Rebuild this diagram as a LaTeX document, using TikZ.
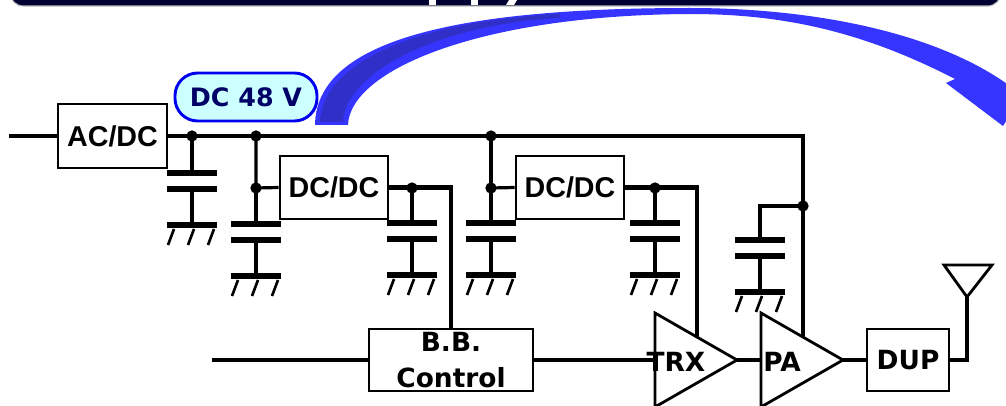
\documentclass[tikz,border=0pt]{standalone}
\usepackage{fontspec}
\newfontfamily\arialfont{Liberation Sans}
\newfontfamily\dejafont{DejaVu Sans}
\usetikzlibrary{calc}
\definecolor{navy}{HTML}{000033}
\definecolor{arcblue}{HTML}{3535FF}
\definecolor{arcdark}{HTML}{3030C8}
\definecolor{pillfill}{HTML}{CCFFFF}
\definecolor{pilltext}{HTML}{000066}
\definecolor{pillline}{HTML}{0000EE}
\begin{document}
\begin{tikzpicture}[x=0.75pt,y=-0.75pt,
  wire/.style={line width=3.7pt, line join=miter},
  thinwire/.style={line width=2.4pt, line join=miter},
  plate/.style={line width=4.8pt},
  hatch/.style={line width=2pt},
  box/.style={draw, line width=2.2pt, fill=white, inner sep=0pt,
    font=\arialfont\bfseries\fontsize{21.5}{24}\selectfont},
  dbox/.style={draw, line width=2.2pt, fill=white, inner sep=0pt, align=center,
    font=\dejafont\bfseries\fontsize{19.8}{27}\selectfont},
  lbl/.style={inner sep=0pt, font=\dejafont\bfseries\fontsize{19.8}{27}\selectfont},
  pill/.style={draw=pillline, line width=2.2pt, fill=pillfill, text=pilltext,
    rounded corners=17pt, inner sep=0pt, minimum width=106.5pt, minimum height=36pt,
    font=\dejafont\bfseries\fontsize{19}{22}\selectfont},
  dot/.style={circle, fill=black, inner sep=0pt, minimum size=8.5pt},
  amp/.style={line width=2.1pt, line join=miter},
  capg/.pic={
    \draw[plate] (-25,0) -- (25,0) (-25,16) -- (25,16) (-25,52) -- (25,52);
    \draw[wire] (0,16) -- (0,52);
    \draw[hatch] (-18,56) -- (-24,72) (2,56) -- (-4,72) (22,56) -- (16,72);
  }]
\useasboundingbox (0,0) rectangle (1006,406);
\clip (0,0) rectangle (1006,406);
\fill[white] (0,0) rectangle (1006,406);

% title banner
\filldraw[fill=navy, draw=gray!55, line width=0.8pt, rounded corners=10pt] (10,-40) rectangle (1001,6);
\fill[white] (429,0) rectangle (436,5);
\fill[white] (471,0) rectangle (478,5);
\fill[white] (509,0) -- (517,0) -- (514,5) -- (506,5) -- cycle;

% big blue arrow
\fill[arcblue] (315,125) .. controls (316,45) and (440,8) .. (690,8)
  .. controls (800,8) and (930,28) .. (1010,86) -- (1045,60) -- (1003,126) -- (946,83) -- (955,79)
  .. controls (860,30) and (780,14) .. (690,14)
  .. controls (480,15) and (350,70) .. (348,125) -- cycle;
\fill[arcdark] (320,122) .. controls (322,58) and (430,20) .. (560,14)
  -- (560,18) .. controls (440,24) and (345,72) .. (343,122) -- cycle;

% label
\node[pill] (v48) at (246,97) {DC 48 V};

% blocks
\node[box, minimum width=81.75pt, minimum height=48pt] (acdc) at (112.5,136) {AC/DC};
\node[box, minimum width=81pt, minimum height=47.25pt] (dcdc1) at (334,187.5) {DC/DC};
\node[box, minimum width=81pt, minimum height=47.25pt] (dcdc2) at (570,187.5) {DC/DC};
\node[dbox, minimum width=123pt, minimum height=46.5pt] (bb) at (451,360) {B.B.\\Control};
\node[dbox, minimum width=61.5pt, minimum height=46.5pt] (dup) at (908,360) {DUP};

% coordinates
\coordinate (inL) at (9,136);
\coordinate (bbIn) at (212,360);
\coordinate (j1) at (192,136);
\coordinate (j2) at (256,136);
\coordinate (j3) at (491,136);
\coordinate (busE) at (803,136);
\coordinate (j4) at (256,188);
\coordinate (j5) at (412,188);
\coordinate (j6) at (491,188);
\coordinate (j7) at (655,188);
\coordinate (j8) at (803,206);
\coordinate (c1) at (192,173);
\coordinate (c2) at (256,224);
\coordinate (c3) at (412,223);
\coordinate (c4) at (491,223);
\coordinate (c5) at (655,223);
\coordinate (c6) at (760,240);
\coordinate (trxA) at (655,313);
\coordinate (trxB) at (655,407);
\coordinate (trxT) at (737,360);
\coordinate (trxIn) at (655,360);
\coordinate (trxS) at (697,337);
\coordinate (paA) at (761,313);
\coordinate (paB) at (761,407);
\coordinate (paT) at (843,360);
\coordinate (paIn) at (761,360);
\coordinate (paS) at (803,337);
\coordinate (antB) at (967,297);
\coordinate (antL) at (944,265);
\coordinate (antR) at (992,265);

% amplifiers
\draw[amp] (trxA) -- (trxT) -- (trxB) -- cycle;
\draw[amp] (paA) -- (paT) -- (paB) -- cycle;
\draw[line width=2.1pt, line join=miter] (antL) -- (antR) -- (antB) -- cycle;

% wiring
\draw[wire] (inL) -- (acdc.west);
\draw[wire] (acdc.east) -- (busE) -- (paS);
\draw[wire] (j1) -- (c1);
\draw[thinwire] (j2) -- (j4) -- (dcdc1.west);
\draw[wire] (j4) -- (c2);
\draw[wire] (dcdc1.east) -- (dcdc1.east -| bb.north) -- (bb.north);
\draw[wire] (j5) -- (c3);
\draw[line width=3pt] (j3) -- (j6);
\draw[thinwire] (j6) -- (dcdc2.west);
\draw[wire] (j6) -- (c4);
\draw[wire] (dcdc2.east) -- (dcdc2.east -| trxS) -- (trxS);
\draw[wire] (j7) -- (c5);
\draw[wire] (j8) -- (j8 -| c6) -- (c6);
\draw[wire] (bbIn) -- (bb.west);
\draw[wire] (bb.east) -- (trxIn);
\draw[wire] (trxT) -- (paIn);
\draw[wire] (paT) -- (dup.west);
\draw[line width=2.8pt, line join=miter] (dup.east) -- (dup.east -| antB) -- (antB);

% capacitors
\foreach \c in {c1,c2,c3,c4,c5,c6} { \pic at (\c) {capg}; }

% junction dots
\foreach \j in {j1,j2,j3,j4,j5,j6,j7,j8} { \node[dot] at (\j) {}; }

% amplifier labels
\node[lbl] (trx) at (676,362) {TRX};
\node[lbl] (pa) at (782,362) {PA};
\end{tikzpicture}
\end{document}
